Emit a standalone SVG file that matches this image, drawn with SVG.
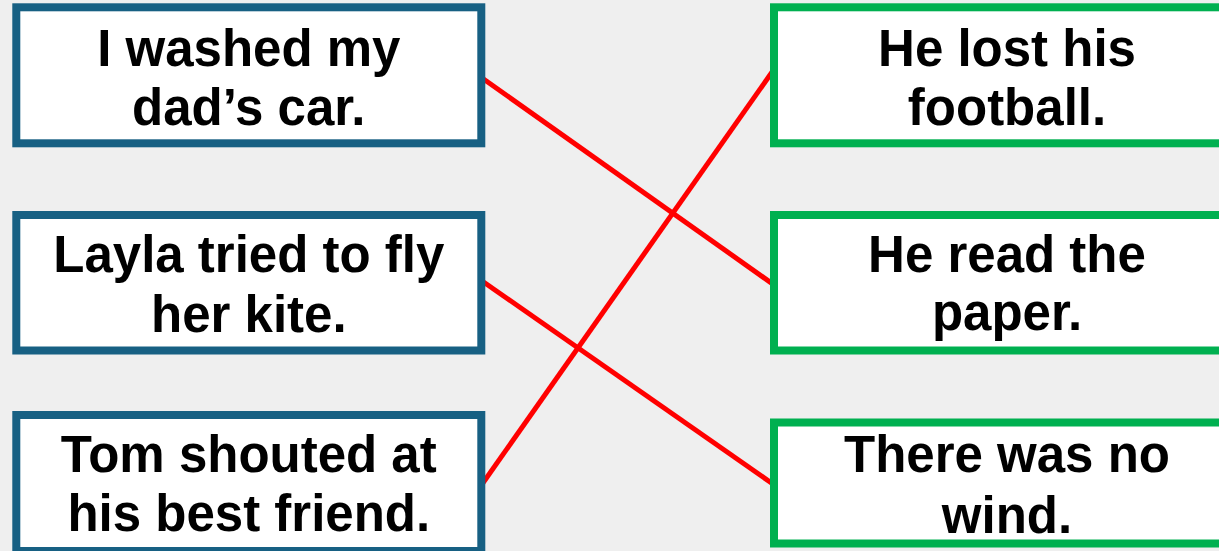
<svg xmlns="http://www.w3.org/2000/svg" width="1219" height="551" viewBox="0 0 1219 551">
  <style>
    .bg { fill: #efefef; }
    .l { fill: #ffffff; stroke: #176083; stroke-width: 8; }
    .r { fill: #ffffff; stroke: #00b050; stroke-width: 8; }
    .t { font-family: "Liberation Sans", Arial, sans-serif; font-weight: bold; font-size: 51px; fill: #000000; text-anchor: middle; }
    .c { stroke: #ff0000; stroke-width: 5; fill: none; }
  </style>
  <rect class="bg" x="0" y="0" width="1219" height="551"/>
  <g id="connectors">
    <line class="c" x1="481" y1="77.2" x2="774" y2="284.9"/>
    <line class="c" x1="481" y1="280.2" x2="774" y2="484.8"/>
    <line class="c" x1="481" y1="485.7" x2="774" y2="69.3"/>
  </g>
  <g id="left1">
    <rect class="l" x="16.3" y="7.3" width="465" height="136"/>
    <text class="t" x="248.8" y="66">I washed my</text>
    <text class="t" x="248.8" y="125">dad’s car.</text>
  </g>
  <g id="left2">
    <rect class="l" x="16.3" y="215" width="465" height="135.5"/>
    <text class="t" x="248.8" y="272">Layla tried to fly</text>
    <text class="t" x="248.8" y="332">her kite.</text>
  </g>
  <g id="left3">
    <rect class="l" x="16.3" y="415" width="465" height="136"/>
    <text class="t" x="248.8" y="472">Tom shouted at</text>
    <text class="t" x="248.8" y="531">his best friend.</text>
  </g>
  <g id="right1">
    <rect class="r" x="774" y="7.3" width="466" height="136"/>
    <text class="t" x="1007" y="66">He lost his</text>
    <text class="t" x="1007" y="125">football.</text>
  </g>
  <g id="right2">
    <rect class="r" x="774" y="215" width="466" height="135.5"/>
    <text class="t" x="1007" y="272">He read the</text>
    <text class="t" x="1007" y="330">paper.</text>
  </g>
  <g id="right3">
    <rect class="r" x="774" y="422.5" width="466" height="121"/>
    <text class="t" x="1007" y="472">There was no</text>
    <text class="t" x="1007" y="533">wind.</text>
  </g>
</svg>
